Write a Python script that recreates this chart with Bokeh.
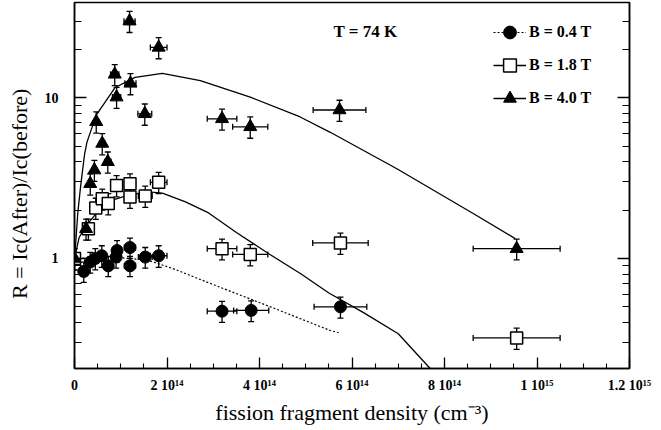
import math
import numpy as np
from bokeh.plotting import figure
from bokeh.models import (ColumnDataSource, Whisker, TeeHead, Range1d, FixedTicker,
                          SingleIntervalTicker, LogAxis, BasicTickFormatter, Legend,
                          LegendItem, Label)
from bokeh.embed import file_html
from bokeh.resources import INLINE

# x in units of 1e14 cm^-3
# ---- B = 0.4 T (filled circles)
circ_x = [0.20, 0.34, 0.45, 0.59, 0.73, 0.90, 0.92, 1.20, 1.20, 1.53, 1.82, 3.19, 3.82, 5.75]
circ_y = [0.83, 0.95, 1.00, 1.04, 0.90, 1.02, 1.12, 1.17, 0.90, 1.02, 1.04, 0.47, 0.475, 0.50]
circ_yerr = [0.12, 0.14, 0.15, 0.16, 0.13, 0.15, 0.17, 0.17, 0.13, 0.15, 0.16, 0.07, 0.07, 0.075]
circ_xerr = [0.02, 0.03, 0.05, 0.06, 0.07, 0.09, 0.09, 0.12, 0.12, 0.15, 0.18, 0.32, 0.38, 0.57]

# ---- B = 1.8 T (open squares)
sq_x = [0.0, 0.30, 0.46, 0.60, 0.73, 0.91, 1.20, 1.20, 1.53, 1.82, 3.19, 3.80, 5.75, 9.56]
sq_y = [1.00, 1.53, 2.06, 2.35, 2.20, 2.85, 2.92, 2.41, 2.45, 2.98, 1.15, 1.06, 1.25, 0.32]
sq_yerr = [0.15, 0.23, 0.31, 0.35, 0.33, 0.43, 0.44, 0.36, 0.37, 0.45, 0.17, 0.16, 0.19, 0.048]
sq_xerr = [0.0, 0.03, 0.05, 0.06, 0.07, 0.09, 0.12, 0.12, 0.15, 0.18, 0.32, 0.38, 0.60, 0.94]

# ---- B = 4.0 T (filled triangles)
tri_x = [0.0, 0.25, 0.34, 0.43, 0.47, 0.60, 0.72, 0.87, 0.91, 1.19, 1.21, 1.52, 1.82, 3.19, 3.80, 5.73, 9.56]
tri_y = [1.00, 1.53, 2.92, 3.55, 7.10, 5.20, 4.00, 14.0, 10.1, 30.0, 12.3, 7.95, 20.6, 7.40, 6.60, 8.40, 1.15]
tri_yerr = [0.15, 0.23, 0.44, 0.53, 1.07, 0.78, 0.60, 2.1, 1.5, 4.5, 1.85, 1.2, 3.1, 1.1, 1.0, 1.26, 0.17]
tri_xerr = [0.0, 0.03, 0.03, 0.04, 0.05, 0.06, 0.07, 0.09, 0.09, 0.12, 0.12, 0.15, 0.18, 0.32, 0.38, 0.57, 0.94]

# ---- model curves
fit04_x = [0.0, 0.8, 1.57, 2.2, 2.72, 3.4, 4.16, 4.9, 5.53, 5.71]
fit04_y = [1.0, 1.02, 0.98, 0.85, 0.74, 0.62, 0.51, 0.42, 0.356, 0.345]
fit18_x = [0.0, 0.1, 0.25, 0.5, 0.8, 1.2, 1.6, 1.9, 2.4, 2.9, 3.5, 4.2, 4.9, 5.5, 6.25, 7.0, 7.7]
fit18_y = [1.0, 1.35, 1.6, 1.95, 2.3, 2.5, 2.6, 2.55, 2.25, 1.92, 1.45, 1.07, 0.8, 0.61, 0.46, 0.34, 0.205]
fit40_x = [0.0, 0.015, 0.07, 0.13, 0.22, 0.27, 0.47, 0.88, 1.31, 1.9, 2.72, 3.8, 4.88, 5.53, 6.97, 8.63, 9.53]
fit40_y = [1.0, 1.12, 1.9, 2.78, 4.5, 5.3, 7.8, 11.6, 13.4, 14.2, 12.8, 10.1, 7.6, 6.1, 3.62, 1.9, 1.33]

x_ticks = [0, 2, 4, 6, 8, 10, 12]
x_tick_labels = ["0", "2 10\u00b9\u2074", "4 10\u00b9\u2074", "6 10\u00b9\u2074", "8 10\u00b9\u2074",
                 "1 10\u00b9\u2075", "1.2 10\u00b9\u2075"]
y_ticks = [1, 10]
y_tick_labels = ["1", "10"]
y_minor = [0.3, 0.4, 0.5, 0.6, 0.7, 0.8, 0.9, 2, 3, 4, 5, 6, 7, 8, 9, 20, 30]

SERIF = "Liberation Serif"
W, H = 661, 430
FT, FB, FL, FR = 2, 368, 74, 629  # frame edges in page px
Y0, Y1 = 0.2066, 39.2
X0, X1 = 0.0, 12.0

p = figure(width=W, height=H, output_backend="svg", toolbar_location=None,
           y_axis_type="log", x_range=Range1d(X0, X1), y_range=Range1d(Y0, Y1),
           min_border_left=FL, min_border_right=W - FR, min_border_top=FT,
           min_border_bottom=H - FB)
p.xgrid.visible = False
p.ygrid.visible = False
p.outline_line_color = "black"
p.outline_line_width = 1.5
p.background_fill_color = "white"


def style_axis(ax, tin, mtin):
    ax.axis_line_color = "black"
    ax.axis_line_width = 1.5
    ax.major_tick_in = tin
    ax.major_tick_out = 0
    ax.minor_tick_in = mtin
    ax.minor_tick_out = 0
    ax.major_tick_line_width = 1.3
    ax.minor_tick_line_width = 1.1
    ax.major_tick_line_color = "black"
    ax.minor_tick_line_color = "black"
    ax.major_label_text_font = SERIF
    ax.major_label_text_font_style = "bold"
    ax.major_label_text_font_size = "14px"
    ax.major_label_text_color = "black"


xa = p.xaxis[0]
xa.ticker = SingleIntervalTicker(interval=2, num_minor_ticks=4)
xa.major_label_overrides = {t: s for t, s in zip(x_ticks, x_tick_labels)}
style_axis(xa, 11, 5)
xa.major_label_standoff = 9
xa.axis_label = "fission fragment density (cm\u207b\u00b3)"
xa.axis_label_text_font = SERIF
xa.axis_label_text_font_style = "normal"
xa.axis_label_text_font_size = "22px"
xa.axis_label_text_color = "black"
xa.axis_label_standoff = 4

ya = p.yaxis[0]
ya.ticker = FixedTicker(ticks=y_ticks, minor_ticks=y_minor)
ya.formatter = BasicTickFormatter()
ya.major_label_overrides = {t: s for t, s in zip(y_ticks, y_tick_labels)}
style_axis(ya, 12, 7)
ya.major_label_standoff = 16
# trailing no-break spaces nudge the centred title slightly downward, as in the original
ya.axis_label = "R = Ic(After)/Ic(before)\u00a0\u00a0\u00a0"
ya.axis_label_text_font = SERIF
ya.axis_label_text_font_style = "normal"
ya.axis_label_text_font_size = "22px"
ya.axis_label_text_color = "black"
ya.axis_label_standoff = 10

ra = LogAxis(ticker=FixedTicker(ticks=y_ticks, minor_ticks=y_minor),
             major_label_overrides={t: "" for t in y_ticks})
style_axis(ra, 12, 7)
p.add_layout(ra, "right")


# error bars
def bars(xs, ys, yerr, xerr):
    xs = np.array(xs); ys = np.array(ys); yerr = np.array(yerr); xerr = np.array(xerr)
    sv = ColumnDataSource(dict(x=xs, lo=ys - yerr, hi=ys + yerr))
    p.add_layout(Whisker(source=sv, base="x", lower="lo", upper="hi", dimension="height",
                         line_color="black", line_width=1.3, level="underlay",
                         lower_head=TeeHead(size=6, line_width=1.3, line_color="black"),
                         upper_head=TeeHead(size=6, line_width=1.3, line_color="black")))
    m = xerr > 0
    sh = ColumnDataSource(dict(y=ys[m], lo=xs[m] - xerr[m], hi=xs[m] + xerr[m]))
    p.add_layout(Whisker(source=sh, base="y", lower="lo", upper="hi", dimension="width",
                         line_color="black", line_width=1.3, level="underlay",
                         lower_head=TeeHead(size=6, line_width=1.3, line_color="black"),
                         upper_head=TeeHead(size=6, line_width=1.3, line_color="black")))


bars(sq_x, sq_y, sq_yerr, sq_xerr)
bars(circ_x, circ_y, circ_yerr, circ_xerr)
bars(tri_x, tri_y, tri_yerr, tri_xerr)

l04 = p.line(fit04_x, fit04_y, line_color="black", line_width=1.2, line_dash="2 2")
l18 = p.line(fit18_x, fit18_y, line_color="black", line_width=1.3)
l40 = p.line(fit40_x, fit40_y, line_color="black", line_width=1.3)

s18 = p.scatter(sq_x, sq_y, marker="square", size=12, fill_color="white",
                line_color="black", line_width=1.5)
s04 = p.scatter(circ_x, circ_y, marker="circle", size=12, fill_color="black",
                line_color="black")
s40 = p.scatter(tri_x, tri_y, marker="triangle", size=13, fill_color="black",
                line_color="black")

legend = Legend(items=[LegendItem(label="B = 0.4 T", renderers=[l04, s04]),
                       LegendItem(label="B = 1.8 T", renderers=[l18, s18]),
                       LegendItem(label="B = 4.0 T", renderers=[l40, s40])],
                location=(419, 254), padding=0, margin=0, spacing=1,
                glyph_width=33, glyph_height=32, label_height=32, label_standoff=3,
                border_line_color=None, background_fill_alpha=0,
                label_text_font=SERIF, label_text_font_style="bold",
                label_text_font_size="16px", label_text_color="black")
p.add_layout(legend)


def px_to_x(px):
    return X0 + (px - FL) / (FR - FL) * (X1 - X0)


def px_to_y(py):
    l0, l1 = math.log10(Y0), math.log10(Y1)
    return 10 ** (l0 + (FB - py) / (FB - FT) * (l1 - l0))


p.add_layout(Label(x=px_to_x(333), y=px_to_y(40), text="T = 74 K", text_font=SERIF,
                   text_font_style="bold", text_font_size="17px", text_color="black"))

open("out.html", "w").write(file_html(p, INLINE))
